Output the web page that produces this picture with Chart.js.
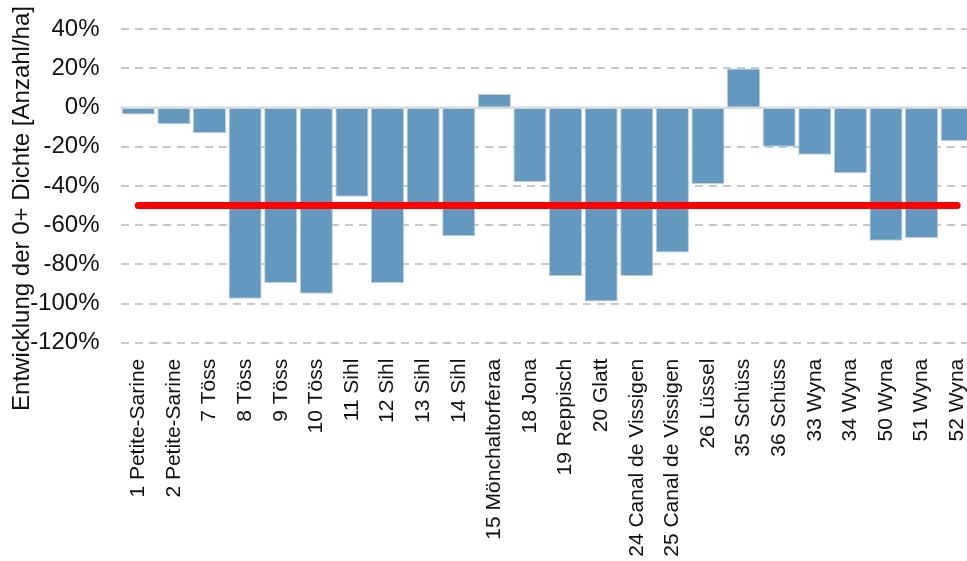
<!DOCTYPE html>
<html>
<head>
<meta charset="utf-8">
<script src="https://cdn.jsdelivr.net/npm/chart.js@4/dist/chart.umd.min.js"></script>
<style>
  html, body { margin: 0; padding: 0; background: #fff; overflow: hidden; }
  #chart { display: block; }
</style>
</head>
<body>
<canvas id="chart" width="975" height="561"></canvas>
<script>
// Sites (river sections) along the x axis
const categories = [
  '1 Petite-Sarine', '2 Petite-Sarine', '7 Töss', '8 Töss', '9 Töss', '10 Töss',
  '11 Sihl', '12 Sihl', '13 Sihl', '14 Sihl', '15 Mönchaltorferaa', '18 Jona',
  '19 Reppisch', '20 Glatt', '24 Canal de Vissigen', '25 Canal de Vissigen',
  '26 Lüssel', '35 Schüss', '36 Schüss', '33 Wyna', '34 Wyna', '50 Wyna',
  '51 Wyna', '52 Wyna'
];

// Change of 0+ density in percent
const densityChange = [
  -3.5, -8.5, -13, -97.5, -89.5, -95,
  -45.5, -89.5, -50, -65.5, 7, -38,
  -86, -99, -86, -74,
  -39, 20, -20, -24, -33.5, -68,
  -66.5, -17
];

// Threshold line at -50 %
const thresholdValue = -50;
const threshold = categories.map(() => thresholdValue);

// Y axis ticks
const yMin = -120;
const yMax = 40;
const yStep = 20;

const yTitle = 'Entwicklung der 0+ Dichte [Anzahl/ha]';
const fontFamily = "'Liberation Sans', Arial, sans-serif";

// Solid zero line drawn over the dashed grid
const zeroLinePlugin = {
  id: 'zeroLine',
  beforeDatasetsDraw(chart) {
    const { ctx, chartArea, scales } = chart;
    const y = scales.y.getPixelForValue(0);
    ctx.save();
    ctx.strokeStyle = '#d9d9d9';
    ctx.lineWidth = 2.5;
    ctx.beginPath();
    ctx.moveTo(chartArea.left, y);
    ctx.lineTo(chartArea.right, y);
    ctx.stroke();
    ctx.restore();
  }
};

// Rotated y axis title
const yTitlePlugin = {
  id: 'yTitle',
  afterDraw(chart) {
    const { ctx } = chart;
    ctx.save();
    ctx.translate(29, 208.5);
    ctx.rotate(-Math.PI / 2);
    ctx.font = '24px ' + fontFamily;
    ctx.fillStyle = '#111';
    ctx.textAlign = 'center';
    ctx.textBaseline = 'alphabetic';
    ctx.fillText(yTitle, 0, 0);
    ctx.restore();
  }
};

new Chart(document.getElementById('chart'), {
  data: {
    labels: categories,
    datasets: [
      {
        type: 'line',
        data: threshold,
        borderColor: '#ff0000',
        borderWidth: 7,
        borderCapStyle: 'round',
        pointRadius: 0,
        fill: false,
        order: 0
      },
      {
        type: 'bar',
        data: densityChange,
        backgroundColor: '#6598be',
        borderColor: '#b7cde0',
        borderWidth: 1,
        barPercentage: 0.93,
        categoryPercentage: 1,
        order: 1
      }
    ]
  },
  options: {
    responsive: false,
    animation: false,
    layout: { padding: { top: 29.3, right: 0, bottom: 0, left: 0 } },
    plugins: {
      legend: { display: false },
      tooltip: { enabled: false }
    },
    scales: {
      x: {
        grid: { display: false, drawTicks: false },
        border: { display: false },
        ticks: {
          autoSkip: false,
          maxRotation: 90,
          minRotation: 90,
          padding: 16,
          color: '#111',
          font: { family: fontFamily, size: 21 }
        },
        afterFit(scale) {
          scale.height = 218.3;
          scale.paddingLeft = 0;
          scale.paddingRight = 0;
        }
      },
      y: {
        min: yMin,
        max: yMax,
        grid: {
          drawTicks: false,
          color: (c) => c.tick && c.tick.value === 0 ? 'rgba(0,0,0,0)' : '#c8c8c8',
          lineWidth: 2
        },
        border: { display: false, dash: [8, 6] },
        ticks: {
          stepSize: yStep,
          padding: 21,
          color: '#111',
          font: { family: fontFamily, size: 24 },
          callback: (v) => v + '%'
        },
        afterFit(scale) {
          scale.width = 120.5;
          scale.paddingTop = 0;
          scale.paddingBottom = 0;
        }
      }
    }
  },
  plugins: [zeroLinePlugin, yTitlePlugin]
});
</script>
</body>
</html>
